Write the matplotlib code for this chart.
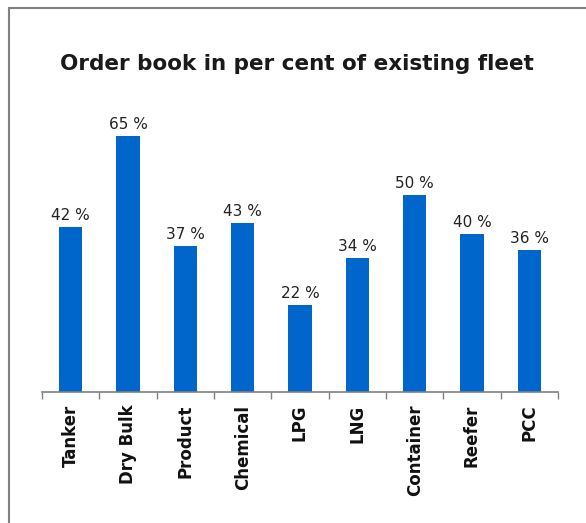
import matplotlib
matplotlib.use("Agg")
import matplotlib.pyplot as plt
from matplotlib.patches import Rectangle

categories = ["Tanker", "Dry Bulk", "Product", "Chemical", "LPG", "LNG", "Container", "Reefer", "PCC"]
values = [42, 65, 37, 43, 22, 34, 50, 40, 36]

W, H = 586, 523
fig = plt.figure(figsize=(W / 100, H / 100), dpi=100)

# outer frame
fig.patches.append(Rectangle((9 / W, -0.1), 1.2, (H - 7.5) / H + 0.1, transform=fig.transFigure,
                             fill=False, edgecolor="#808080", linewidth=1.5))

ax = fig.add_axes([42 / W, (H - 392) / H, (558 - 42) / W, 295.5 / H])
x = list(range(len(categories)))
ax.bar(x, values, width=0.41, color="#0066CC")
ax.set_xlim(-0.5, len(categories) - 0.5)
ax.set_ylim(0, 75)
for s in ["top", "right", "left"]:
    ax.spines[s].set_visible(False)
ax.spines["bottom"].set_color("#808080")
ax.spines["bottom"].set_linewidth(1.2)
ax.set_yticks([])
ax.set_xticks([i - 0.5 for i in range(len(categories) + 1)], minor=False)
ax.set_xticklabels([])
ax.set_xticks(x, minor=True)
ax.set_xticklabels(categories, minor=True, rotation=90, fontsize=12, fontweight="bold", color="#111111")
ax.tick_params(axis="x", which="major", length=5, color="#808080", width=1)
ax.tick_params(axis="x", which="minor", length=0, pad=9)

for xi, v in zip(x, values):
    ax.annotate(f"{v} %", (xi, v), xytext=(0, 5), textcoords="offset points",
                ha="center", va="baseline", fontsize=11, color="#222222")

fig.text(297 / W, 1 - 69.5 / H, "Order book in per cent of existing fleet", ha="center", va="baseline",
         fontsize=15.5, fontweight="bold", color="#1a1a1a")

fig.savefig("out.png", dpi=100)
